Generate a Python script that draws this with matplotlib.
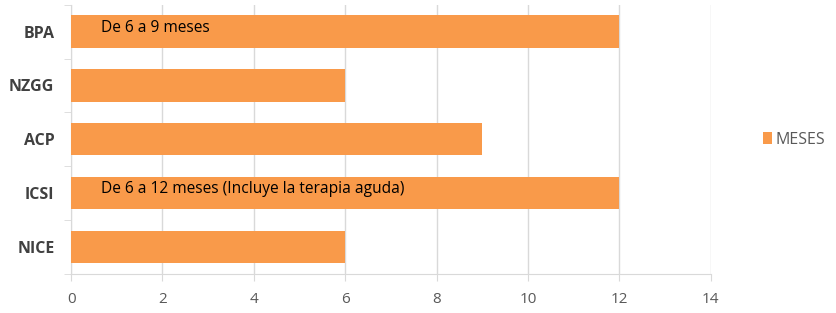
import matplotlib
matplotlib.use('Agg')
import matplotlib.pyplot as plt
from matplotlib.patches import Patch

# datos
guias = ['NICE', 'ICSI', 'ACP', 'NZGG', 'BPA']
meses = [6, 12, 9, 6, 12]
notas = ['', 'De 6 a 12 meses (Incluye la terapia aguda)', '', '', 'De 6 a 9 meses']
xticks = [0, 2, 4, 6, 8, 10, 12, 14]

naranja = '#F99A4A'
gris_grid = '#D9D9D9'

plt.rcParams['font.family'] = ['Open Sans', 'DejaVu Sans']

fig = plt.figure(figsize=(8.37, 3.13), dpi=100)
ax = fig.add_axes([0.085, 0.125, 0.764, 0.86])

pos = list(range(len(guias)))
ax.barh(pos, meses, height=0.6, color=naranja, zorder=3)

# textos dentro de las barras
for p, n in zip(pos, notas):
    if n:
        ax.text(0.66, p + 0.07, n, fontsize=11.2, color='black', va='center', zorder=4)

ax.set_xlim(0, 14)
ax.set_ylim(-0.5, len(guias) - 0.5)
ax.set_xticks(xticks)
ax.set_xticklabels([str(v) for v in xticks], color='#595959', fontsize=11)
ax.set_yticks(pos)
ax.set_yticklabels(guias, fontweight='bold', color='#404040', fontsize=11.5)
ax.tick_params(axis='y', length=0, pad=12)
ax.tick_params(axis='x', length=5, color=gris_grid, pad=8)
# marcas entre categorias en el eje y
ax.set_yticks([p + 0.5 for p in pos[:-1]] + [-0.5, len(guias) - 0.5], minor=True)
ax.tick_params(axis='y', which='minor', length=5, color=gris_grid)

ax.grid(axis='x', color=gris_grid, linewidth=1, zorder=0)
for s in ['top', 'right']:
    ax.spines[s].set_visible(False)
for s in ['left', 'bottom']:
    ax.spines[s].set_color(gris_grid)

leyenda = [Patch(facecolor=naranja, label='MESES')]
fig.legend(handles=leyenda, loc='center left', bbox_to_anchor=(0.911, 0.553),
           frameon=False, fontsize=11.5, handlelength=0.6, handleheight=0.8,
           handletextpad=0.2, borderpad=0, borderaxespad=0, labelcolor='#595959')

fig.savefig('out.png', dpi=100)
